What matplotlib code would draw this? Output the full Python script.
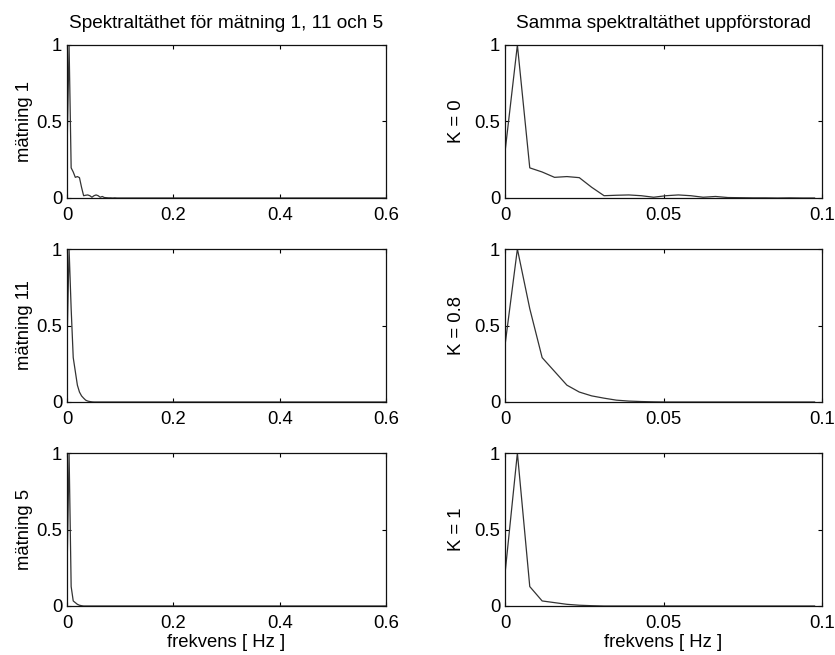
import numpy as np
import matplotlib
matplotlib.use("Agg")
import matplotlib.pyplot as plt

plt.rcParams['font.family'] = ['Liberation Sans', 'DejaVu Sans']

# frequency resolution of the spectra [Hz]
DF = 1.0 / 256.0

# normalized spectral densities (bins 0..25, 0 - ~0.1 Hz)
k0_vals = [0.30, 1.00, 0.197, 0.17, 0.135, 0.14, 0.133, 0.07, 0.015, 0.018,
           0.020, 0.015, 0.005, 0.015, 0.020, 0.015, 0.005, 0.010, 0.003, 0.002,
           0.001, 0.001, 0.0, 0.001, 0.0, 0.0]
k08_vals = [0.37, 1.00, 0.61, 0.29, 0.20, 0.11, 0.065, 0.04, 0.025, 0.012,
            0.006, 0.003, 0.001, 0.0, 0.0, 0.0, 0.0, 0.0, 0.0, 0.0,
            0.0, 0.0, 0.0, 0.0, 0.0, 0.0]
k1_vals = [0.21, 1.00, 0.127, 0.033, 0.022, 0.011, 0.005, 0.002, 0.0, 0.0,
           0.0, 0.0, 0.0, 0.0, 0.0, 0.0, 0.0, 0.0, 0.0, 0.0,
           0.0, 0.0, 0.0, 0.0, 0.0, 0.0]

# tail of the full spectrum (flat at zero up to 0.6 Hz)
tail_freq = [0.6]
tail_vals = [0.0]

series = [k0_vals, k08_vals, k1_vals]
left_labels = ['mätning 1', 'mätning 11', 'mätning 5']
right_labels = ['K = 0', 'K = 0.8', 'K = 1']
left_xticks = [0, 0.2, 0.4, 0.6]
left_xticklabels = ['0', '0.2', '0.4', '0.6']
right_xticks = [0, 0.05, 0.1]
right_xticklabels = ['0', '0.05', '0.1']
yticks = [0, 0.5, 1]
yticklabels = ['0', '0.5', '1']

W, H = 835, 655
fig = plt.figure(figsize=(W / 100, H / 100), dpi=100)

row_tops = [45, 249, 453]
row_h = 153
left_x, left_w = 67, 319
right_x, right_w = 505, 317

FS = 13.3
line_kw = dict(color='#333333', lw=0.9)

def style(ax, xlim, xticks, xticklabels):
    ax.set_xlim(*xlim)
    ax.set_ylim(0, 1)
    ax.set_xticks(xticks)
    ax.set_xticklabels(xticklabels)
    ax.set_yticks(yticks)
    ax.set_yticklabels(yticklabels)
    ax.tick_params(direction='in', top=True, right=True, length=3,
                   labelsize=FS, width=0.8)
    ax.tick_params(axis='x', pad=6.5)
    ax.tick_params(axis='y', pad=3.5)
    for s in ax.spines.values():
        s.set_linewidth(0.9)
        s.set_color('#111')

for i, vals in enumerate(series):
    freq = list(np.arange(len(vals)) * DF)
    bottom = 1 - (row_tops[i] + row_h) / H
    axl = fig.add_axes([left_x / W, bottom, left_w / W, row_h / H])
    axr = fig.add_axes([right_x / W, bottom, right_w / W, row_h / H])

    axl.plot(freq + tail_freq, vals + tail_vals, **line_kw)
    axr.plot(freq, vals, **line_kw)

    style(axl, (0, 0.6), left_xticks, left_xticklabels)
    style(axr, (0, 0.1), right_xticks, right_xticklabels)

    axl.set_ylabel(left_labels[i], fontsize=FS, labelpad=2)
    axr.set_ylabel(right_labels[i], fontsize=FS, labelpad=7)

    if i == 0:
        axl.set_title('Spektraltäthet för mätning 1, 11 och 5', fontsize=13.7, pad=12)
        axr.set_title('Samma spektraltäthet uppförstorad', fontsize=13.7, pad=12)
    if i == 2:
        axl.set_xlabel('frekvens [ Hz ]', fontsize=FS, labelpad=1.5)
        axr.set_xlabel('frekvens [ Hz ]', fontsize=FS, labelpad=1.5)

fig.savefig('out.png', dpi=100)
